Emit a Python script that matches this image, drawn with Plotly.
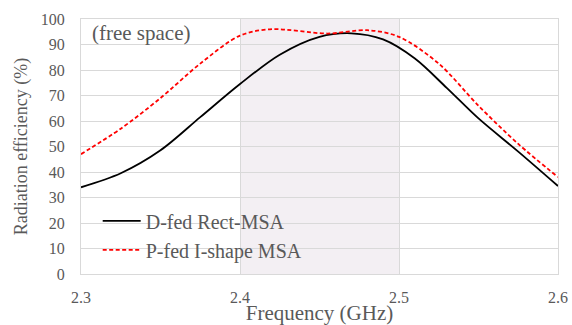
import plotly.graph_objects as go

freq_d = [2.30, 2.325, 2.35, 2.375, 2.40, 2.425, 2.45, 2.47, 2.49, 2.51, 2.53, 2.55, 2.575, 2.60]
d_fed = [34, 39.5, 48.5, 61.5, 74.5, 86, 93, 94.4, 92, 84.5, 73, 61, 48, 34.5]
freq_p = [2.30, 2.325, 2.35, 2.375, 2.40, 2.42, 2.455, 2.48, 2.50, 2.525, 2.55, 2.575, 2.60]
p_fed = [47, 57, 69, 82.5, 93.5, 96, 94.3, 95.6, 93, 82.5, 66, 51, 38]

band = [2.4, 2.5]
xticks = [2.3, 2.4, 2.5, 2.6]
yticks = list(range(0, 101, 10))

font = "Liberation Serif"
grey = "#595959"

fig = go.Figure()
fig.add_trace(go.Scatter(x=freq_d, y=d_fed, mode="lines", name="D-fed Rect-MSA",
                         line=dict(color="black", width=1.8, shape="spline", smoothing=0.9)))
fig.add_trace(go.Scatter(x=freq_p, y=p_fed, mode="lines", name="P-fed I-shape MSA",
                         line=dict(color="#ff0000", width=1.8, dash="4px,2.5px", shape="spline", smoothing=0.9)))

fig.add_shape(type="rect", x0=band[0], x1=band[1], y0=0, y1=100, xref="x", yref="y",
              fillcolor="#f3eff3", line=dict(width=0), layer="below")

fig.add_annotation(x=2.3055, y=94.5, xref="x", yref="y", text="(free space)", showarrow=False,
                   xanchor="left", yanchor="middle", font=dict(family=font, size=21, color=grey))

fig.update_layout(
    width=572, height=325,
    margin=dict(l=81, r=14, t=19, b=51),
    paper_bgcolor="white", plot_bgcolor="white",
    font=dict(family=font, color=grey, size=16),
    showlegend=True,
    legend=dict(x=0.035, y=0.285, xanchor="left", yanchor="top", bgcolor="rgba(0,0,0,0)",
                itemwidth=38, font=dict(family=font, size=20, color=grey), tracegroupgap=0),
    xaxis=dict(range=[2.3, 2.6], tickvals=xticks, ticktext=[str(t) for t in xticks],
               showgrid=True, gridcolor="#d9d9d9", gridwidth=1, zeroline=False,
               showline=True, linecolor="#d9d9d9", mirror=True, automargin=False,
               ticks="outside", ticklen=9, tickcolor="rgba(0,0,0,0)",
               title=dict(text="Frequency (GHz)", font=dict(family=font, size=21, color=grey), standoff=0),
               tickfont=dict(family=font, size=16, color=grey)),
    yaxis=dict(range=[0, 100], tickvals=yticks, showgrid=True, gridcolor="#d9d9d9", gridwidth=1,
               zeroline=False, showline=True, linecolor="#d9d9d9", mirror=True, automargin=False,
               ticks="outside", ticklen=12, tickcolor="rgba(0,0,0,0)",
               title=dict(text="Radiation efficiency (%)", font=dict(family=font, size=18, color=grey), standoff=8),
               tickfont=dict(family=font, size=16, color=grey)),
)

fig.write_html("out.html")
